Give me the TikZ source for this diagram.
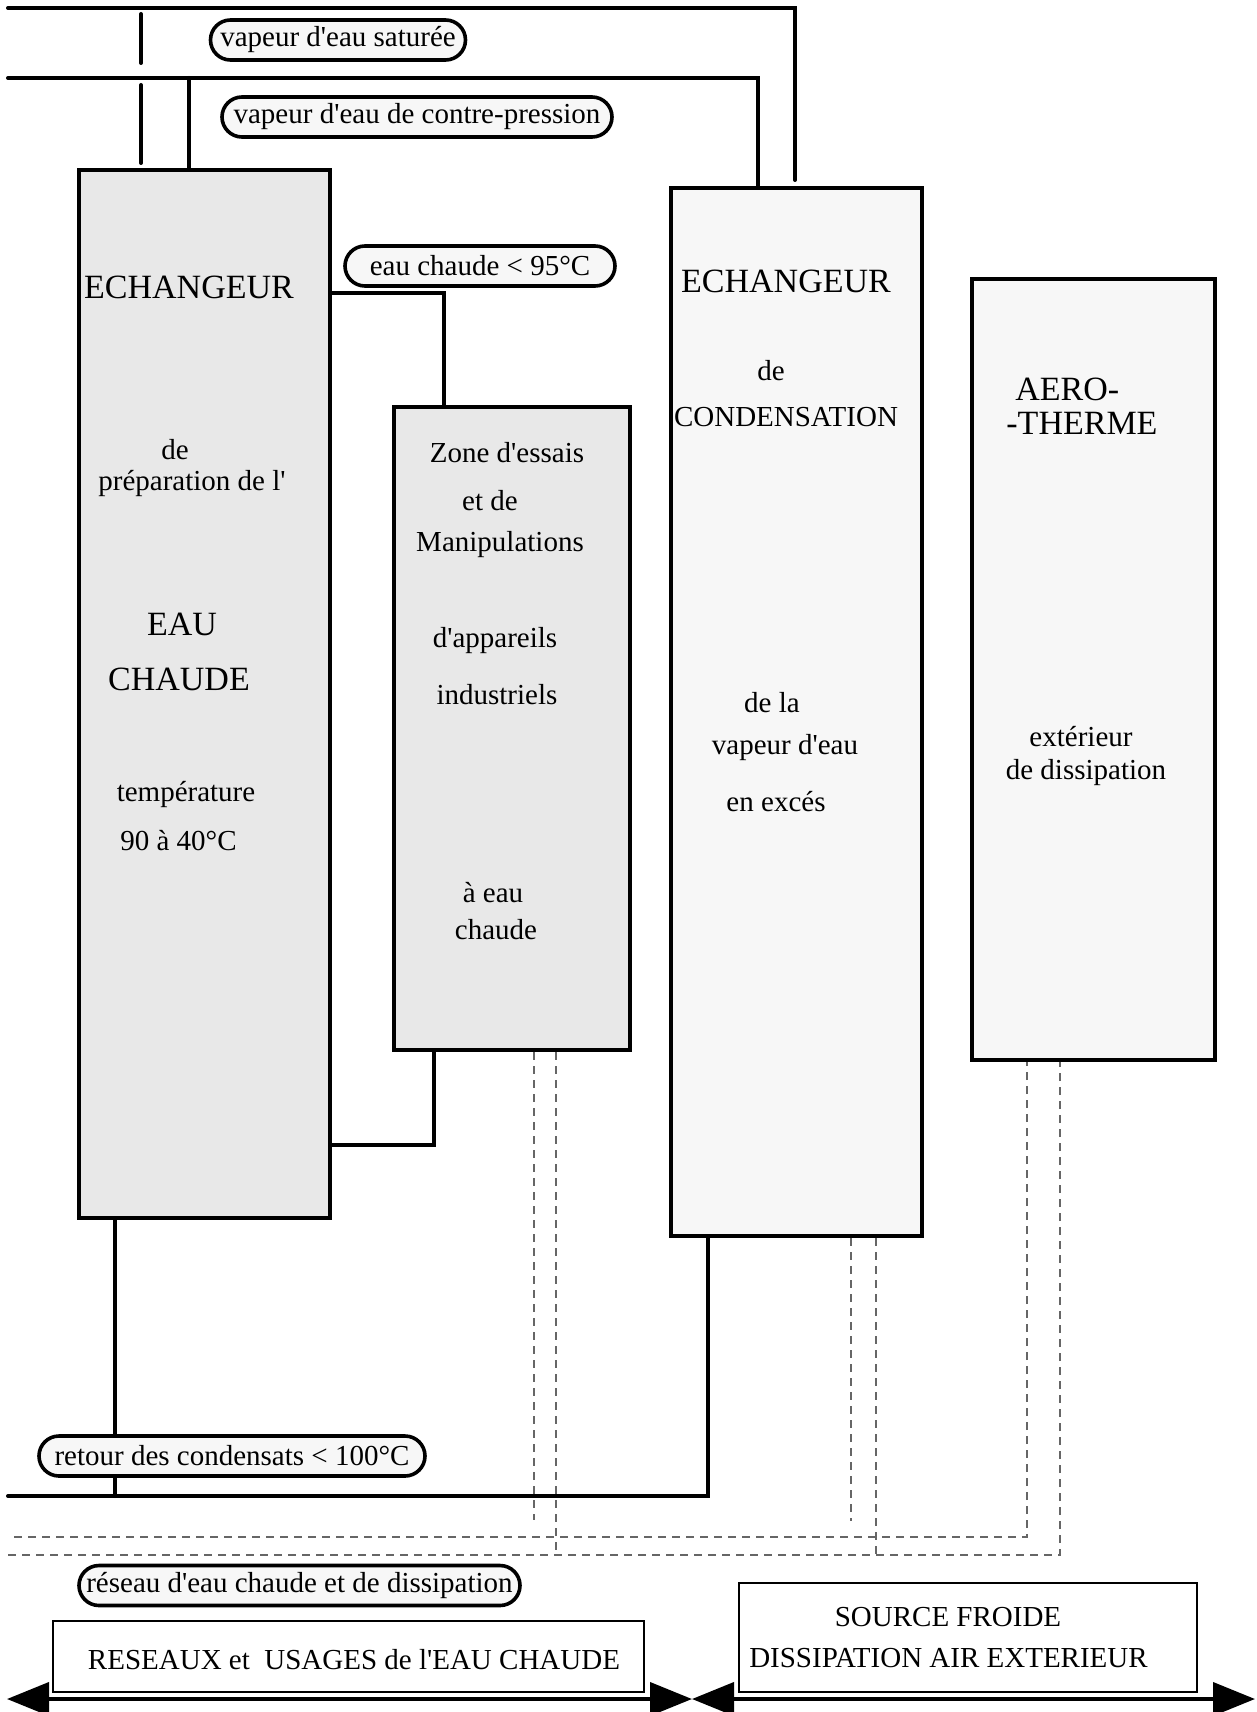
\documentclass[tikz,border=0pt]{standalone}
\usepackage{fontspec}
\setmainfont{Liberation Serif}[Ligatures=TeXOff]
\usetikzlibrary{arrows.meta}

\begin{document}
\begin{tikzpicture}[x=0.5pt,y=-0.5pt,
  txt/.style={inner sep=0pt,font=\fontsize{14.5}{17}\selectfont},
  big/.style={inner sep=0pt,font=\fontsize{17}{20}\selectfont},
  unit/.style={draw,line width=2pt,inner sep=0pt},
  pill/.style={draw,line width=1.8pt,rounded corners=10pt,fill=black!3,minimum height=20pt,inner sep=0pt,font=\fontsize{14.5}{17}\selectfont},
  pipe/.style={line width=2pt,line cap=round},
  drain/.style={black!60,line width=0.8pt,dash pattern=on 4pt off 3pt},
  frame/.style={draw,line width=1pt,inner sep=0pt},
  flow/.style={line width=2pt,{Triangle[length=21pt,width=16.5pt]}-{Triangle[length=21pt,width=16.5pt]}}]
  \useasboundingbox (0,0) rectangle (1257,1712);

  % the four units
  \node[unit,fill=black!9,minimum width=125.5pt,minimum height=524pt] (ech) at (204.5,694) {};
  \node[unit,fill=black!9,minimum width=118pt,minimum height=321.5pt] (zone) at (512,728.5) {};
  \node[unit,fill=black!3,minimum width=125.5pt,minimum height=524pt] (cond) at (796.5,712) {};
  \node[unit,fill=black!3,minimum width=121.5pt,minimum height=390.5pt] (aero) at (1093.5,669.5) {};

  % hot water exchanger
  \node[big] (ech1) at (189,287) {ECHANGEUR};
  \node[txt] (ech2) at (175,450) {de};
  \node[txt] (ech3) at (192,484) {préparation de l'};
  \node[big] (ech4) at (182,624) {EAU};
  \node[big] (ech5) at (179,679) {CHAUDE};
  \node[txt] (ech6) at (186,794) {température};
  \node[txt] (ech7) at (178.5,841) {90 à 40°C};

  % test zone
  \node[txt] (zone1) at (507,453) {Zone d'essais};
  \node[txt] (zone2) at (490,501) {et de};
  \node[txt] (zone3) at (500,545) {Manipulations};
  \node[txt] (zone4) at (495,641) {d'appareils};
  \node[txt] (zone5) at (497,695) {industriels};
  \node[txt] (zone6) at (493,893) {à eau};
  \node[txt] (zone7) at (496,930) {chaude};

  % condensation exchanger
  \node[big] (cond1) at (786,281) {ECHANGEUR};
  \node[txt] (cond2) at (771,371) {de};
  \node[txt] (cond3) at (786,417) {CONDENSATION};
  \node[txt] (cond4) at (772,703) {de la};
  \node[txt] (cond5) at (785,748) {vapeur d'eau};
  \node[txt] (cond6) at (776,802) {en excés};

  % air cooler
  \node[big,anchor=west] (aero1) at (1015,389) {AERO-};
  \node[big,anchor=west] (aero2) at (1006,423) {-THERME};
  \node[txt] (aero3) at (1081,737) {extérieur};
  \node[txt] (aero4) at (1086,773) {de dissipation};

  % steam lines
  \coordinate (s1) at (8,8);
  \coordinate (s2) at (795,8);
  \draw[pipe] (s1) -- (s2) -- ([yshift=3pt]s2 |- cond.north);
  \coordinate (c1) at (8,78);
  \coordinate (c2) at (758,78);
  \draw[pipe] (c1) -- (c2) -- (c2 |- cond.north);
  \draw[pipe] (141,14) -- (141,63) (141,85) -- (141,163);
  \coordinate (v2) at (189,78);
  \draw[pipe] (v2) -- (v2 |- ech.north);

  % hot water loop
  \coordinate (e1) at (444,293);
  \draw[pipe] (ech.east |- e1) -| (zone.north -| e1);
  \coordinate (r1) at (433.5,1145);
  \draw[pipe] (zone.south -| r1) |- (ech.east |- r1);

  % condensate return
  \coordinate (k1) at (8,1496);
  \coordinate (k2) at (708,1496);
  \coordinate (k3) at (115,1496);
  \draw[pipe] (k1) -- (k2) -- (k2 |- cond.south);
  \draw[pipe] (ech.south -| k3) -- (k3);

  % dissipation network
  \coordinate (d1) at (1027,1537);
  \coordinate (d2) at (1060,1555);
  \draw[drain] (14,1537) -- (d1) -- (d1 |- aero.south);
  \draw[drain] (8,1555) -- (d2) -- (d2 |- aero.south);
  \foreach \n/\xx/\yy in {zone/534/1520,zone/556/1555,cond/851/1521,cond/876/1555}{
    \coordinate (t) at (\xx,\yy);
    \draw[drain] (t |- \n.south) -- (t);
  }

  % labels
  \node[pill,minimum width=127.5pt] (sat) at (338,40) {vapeur d'eau saturée};
  \node[pill,minimum width=195pt] (cp) at (417,117) {vapeur d'eau de contre-pression};
  \node[pill,minimum width=135pt] (ec) at (480,266) {eau chaude < 95°C};
  \node[pill,minimum width=193pt] (ret) at (232,1456) {retour des condensats < 100°C};
  \node[pill,minimum width=220.5pt] (res) at (299.5,1585.5) {réseau d'eau chaude et de dissipation};

  % bottom legend
  \node[frame,minimum width=295.5pt,minimum height=35.5pt] (usages) at (348.5,1656.5) {};
  \node[txt] (usagesT) at (354,1660) {RESEAUX et \ USAGES de l'EAU CHAUDE};
  \node[frame,minimum width=229pt,minimum height=54.5pt] (source) at (968,1637.5) {};
  \node[txt] (source1) at (948,1617) {SOURCE FROIDE};
  \node[txt] (source2) at (948.5,1658) {DISSIPATION AIR EXTERIEUR};
  \coordinate (a1) at (7,1699);
  \coordinate (a2) at (692,1699);
  \coordinate (a3) at (1255,1699);
  \draw[flow] (a1) -- (a2);
  \draw[flow] (a2) -- (a3);
\end{tikzpicture}
\end{document}
